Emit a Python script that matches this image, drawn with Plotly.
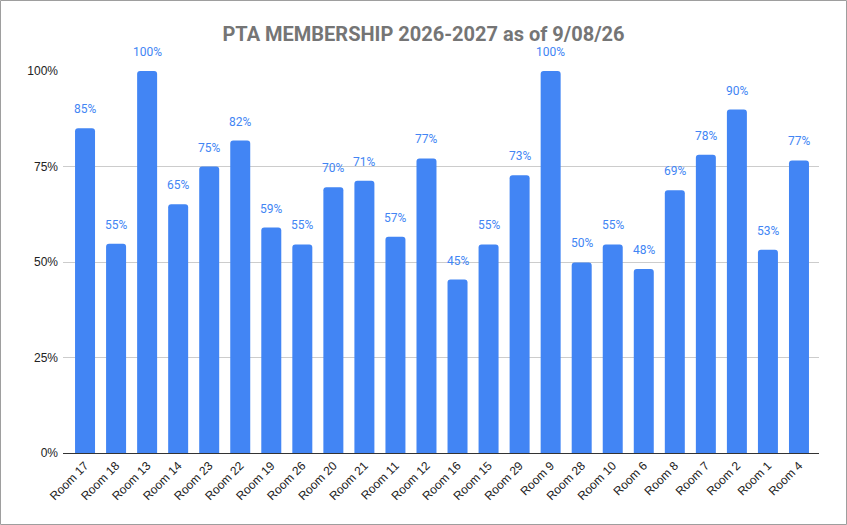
import plotly.graph_objects as go

rooms = ["Room 17", "Room 18", "Room 13", "Room 14", "Room 23", "Room 22", "Room 19", "Room 26",
         "Room 20", "Room 21", "Room 11", "Room 12", "Room 16", "Room 15", "Room 29", "Room 9",
         "Room 28", "Room 10", "Room 6", "Room 8", "Room 7", "Room 2", "Room 1", "Room 4"]
membership = [0.850, 0.548, 1.000, 0.651, 0.750, 0.818, 0.590, 0.546,
              0.696, 0.713, 0.566, 0.771, 0.454, 0.546, 0.727, 1.000,
              0.499, 0.546, 0.482, 0.688, 0.781, 0.899, 0.532, 0.766]
labels = [f"{round(v * 100)}%" for v in membership]
y_ticks = [0, 0.25, 0.5, 0.75, 1.0]
y_tick_text = ["0%", "25%", "50%", "75%", "100%"]

BLUE = "#4285F4"
W, H = 847, 525
ML, MR, MT, MB = 63, 28, 71, 72
PW, PH = W - ML - MR, H - MT - MB

fig = go.Figure()
fig.add_trace(go.Bar(
    x=rooms, y=membership,
    marker=dict(color=BLUE, line=dict(width=0), cornerradius=3),
    hoverinfo="x+y",
))

for r, v, t in zip(rooms, membership, labels):
    fig.add_annotation(x=r, y=v, text=t, showarrow=False, yanchor="middle",
                       yshift=19, font=dict(family="Roboto, Arial", size=12, color=BLUE))

n = len(rooms)
fig.update_layout(
    width=W, height=H,
    margin=dict(l=ML, r=MR, t=MT, b=MB, autoexpand=False),
    paper_bgcolor="white", plot_bgcolor="white",
    title=dict(text="<b>PTA MEMBERSHIP 2026-2027 as of 9/08/26</b>",
               x=0.5, xref="container", y=1 - 34 / H, yref="container", yanchor="middle",
               font=dict(family="Roboto, Arial", size=20, color="#757575")),
    bargap=0.356,
    showlegend=False,
    xaxis=dict(tickangle=-45, tickfont=dict(family="Arial", size=12, color="#222222"),
               range=[-0.71, n - 1 + 0.645],
               showline=True, linecolor="#333333", linewidth=1, ticks="",
               showgrid=False, fixedrange=True, automargin=False),
    yaxis=dict(range=[0, 1.0], tickvals=y_ticks, ticktext=y_tick_text,
               tickfont=dict(family="Arial", size=12, color="#222222"),
               showgrid=True, gridcolor="#cccccc", gridwidth=1, zeroline=False,
               ticks="", ticklabelstandoff=4, automargin=False),
    shapes=[dict(type="rect", xref="paper", yref="paper",
                 x0=(-ML + 0.5) / PW, x1=1 + (MR - 0.5) / PW,
                 y0=(-MB + 0.5) / PH, y1=1 + (MT - 0.5) / PH,
                 line=dict(color="#9e9e9e", width=1), layer="above")],
)

fig.write_html("out.html", config={"displayModeBar": False},
               post_script="document.body.style.margin='0';")
